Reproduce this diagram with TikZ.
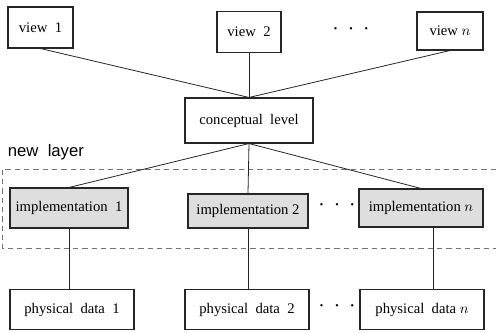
\documentclass[tikz,border=0pt]{standalone}
\usepackage{fontspec}
\setmainfont{Liberation Serif}
\setsansfont{Liberation Sans}
\tikzset{every picture/.style={line width=0.75pt}}

\begin{document}
\begin{tikzpicture}[x=0.75pt,y=0.75pt,yscale=-1,xscale=1,
  plainbox/.style={draw=black!85,line width=0.8pt,inner sep=0pt,font=\fontsize{11}{13}\selectfont},
  implbox/.style={plainbox,fill=black!13},
  link/.style={draw=black!85,line width=0.6pt},
  dots/.style={font=\LARGE}]
\useasboundingbox (0,0) rectangle (496,332);

%Shape: Rectangle [id:dp31] 
\node [plainbox,minimum width=48.75pt,minimum height=30.75pt] (view1) at (40.5,27.5) {view~~1};
%Shape: Rectangle [id:dp32] 
\node [plainbox,minimum width=48pt,minimum height=30.75pt] (view2) at (249,32) {view~~2};
%Shape: Rectangle [id:dp33] 
\node [plainbox,minimum width=49.5pt,minimum height=28.5pt] (viewn) at (450,31) {view $n$};
%Shape: Rectangle [id:dp34] 
\node [plainbox,minimum width=96pt,minimum height=33.75pt] (concept) at (249,120.5) {conceptual~~level};

%Straight Lines [id:dp35] 
\draw [link] (view1.south) -- (concept.north) ;
%Straight Lines [id:dp36] 
\draw [link] (view2.south) -- (concept.north) ;
%Straight Lines [id:dp37] 
\draw [link] (viewn.south) -- (concept.north) ;

%Text dots [id:dp38] 
\node [dots] (vdots) at (351,29) {$\cdot\,\cdot\,\cdot$};

%Dashed frame of the new layer [id:dp39] 
\draw [black!55,line width=0.7pt,dash pattern={on 4pt off 3pt}] (496,169) -- (2,169) -- (2,248) -- (496,248) ;
%Text [id:dp40] 
\node [anchor=west,font=\sffamily\fontsize{12.5}{15}\selectfont] (newlayer) at (3,152) {new~~layer};

%Shape: Rectangle [id:dp41] 
\node [implbox,minimum width=88.5pt,minimum height=30pt] (impl1) at (69,208) {implementation~~1};
%Shape: Rectangle [id:dp42] 
\node [implbox,minimum width=90pt,minimum height=25.5pt] (impl2) at (248,211) {implementation 2};
%Shape: Rectangle [id:dp43] 
\node [implbox,minimum width=93pt,minimum height=28.5pt] (impln) at (421,208) {implementation $n$};
%Text dots [id:dp44] 
\node [dots] (idots) at (337,205) {$\cdot\,\cdot\,\cdot$};

%Straight Lines [id:dp45] 
\draw [link] (concept.south) -- (impl1.north) ;
%Straight Lines [id:dp46] 
\draw [link] (concept.south) -- (impl2.north) ;
%Straight Lines [id:dp47] 
\draw [link] (concept.south) -- (impln.north) ;

%Shape: Rectangle [id:dp48] 
\node [plainbox,minimum width=93pt,minimum height=30pt] (phys1) at (72,309.5) {physical~~data~~1};
%Shape: Rectangle [id:dp49] 
\node [plainbox,minimum width=93pt,minimum height=30pt] (phys2) at (247,309.5) {physical~~data~~2};
%Shape: Rectangle [id:dp50] 
\node [plainbox,minimum width=93pt,minimum height=30pt] (physn) at (422,309.5) {physical~~data $n$};
%Text dots [id:dp51] 
\node [dots] (pdots) at (337,306) {$\cdot\,\cdot\,\cdot$};

%Straight Lines [id:dp52] 
\draw [link] (impl1.south) -- (impl1.south |- phys1.north) ;
%Straight Lines [id:dp53] 
\draw [link] (impl2.south) -- (impl2.south |- phys2.north) ;
%Straight Lines [id:dp54] 
\draw [link] (impln.south -| 433,0) -- (physn.north -| 433,0) ;

\end{tikzpicture}
\end{document}
